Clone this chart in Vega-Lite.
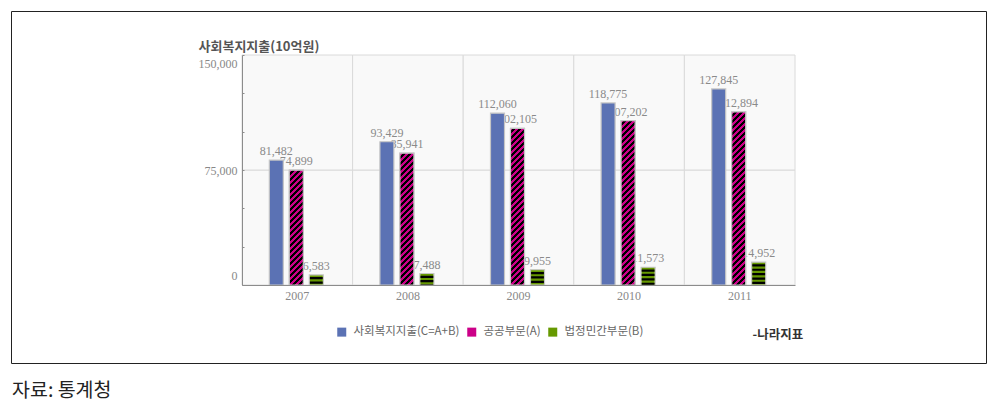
{
"$schema": "https://vega.github.io/schema/vega-lite/v6.json",
"width": 975,
"height": 352,
"autosize": {"type": "none"},
"padding": {"left": 11, "top": 11, "right": 13, "bottom": 39},
"background": "white",
"config": {"view": {"stroke": "#222", "strokeWidth": 1, "fill": "white"}, "font": "Noto Sans CJK KR"},
"title": {"text": "자료: 통계청", "orient": "bottom", "anchor": "start", "frame": "group", "font": "Noto Sans CJK KR", "fontSize": 19.5, "fontWeight": "normal", "color": "#222", "offset": 19, "dx": 1},
"data": {"values": [
{"year": "2007", "series": "사회복지지출(C=A+B)", "value": 81482},
{"year": "2007", "series": "공공부문(A)", "value": 74899},
{"year": "2007", "series": "법정민간부문(B)", "value": 6583},
{"year": "2008", "series": "사회복지지출(C=A+B)", "value": 93429},
{"year": "2008", "series": "공공부문(A)", "value": 85941},
{"year": "2008", "series": "법정민간부문(B)", "value": 7488},
{"year": "2009", "series": "사회복지지출(C=A+B)", "value": 112060},
{"year": "2009", "series": "공공부문(A)", "value": 102105},
{"year": "2009", "series": "법정민간부문(B)", "value": 9955},
{"year": "2010", "series": "사회복지지출(C=A+B)", "value": 118775},
{"year": "2010", "series": "공공부문(A)", "value": 107202},
{"year": "2010", "series": "법정민간부문(B)", "value": 11573},
{"year": "2011", "series": "사회복지지출(C=A+B)", "value": 127845},
{"year": "2011", "series": "공공부문(A)", "value": 112894},
{"year": "2011", "series": "법정민간부문(B)", "value": 14952}
]},
"encoding": {
"x": {"field": "year", "type": "nominal", "sort": null,
"scale": {"range": [231, 784], "paddingInner": 0, "paddingOuter": 0},
"axis": {"offset": -78, "ticks": false, "grid": false, "domainColor": "#8c8c8c", "labelFont": "Liberation Serif", "labelFontSize": 12, "labelColor": "#888", "labelPadding": 5, "labelAngle": 0, "zindex": 1,
"title": "-나라지표", "titleX": 741, "titleY": 49, "titleAlign": "left", "titleBaseline": "middle", "titleFont": "Noto Sans CJK KR", "titleFontSize": 12.5, "titleFontWeight": "bold", "titleColor": "#333"}},
"y": {"field": "value", "type": "quantitative", "scale": {"domain": [0, 150000], "range": [274, 44], "nice": false, "zero": true},
"axis": {"offset": -231, "values": [0, 25000, 50000, 75000, 100000, 125000, 150000], "labelExpr": "datum.value % 75000 === 0 ? format(datum.value, ',') : ''", "labelOverlap": false, "grid": false, "domainColor": "#8c8c8c", "tickColor": "#8c8c8c", "tickSize": -2, "labelPadding": 7, "labelFont": "Liberation Serif", "labelFontSize": 12, "labelColor": "#888", "labelFlush": true, "labelFlushOffset": -3, "zindex": 1,
"title": "사회복지지출(10억원)", "titleAngle": 0, "titleAlign": "left", "titleBaseline": "middle", "titleX": -44, "titleY": 35, "titleFont": "Noto Sans CJK KR", "titleFontSize": 13, "titleFontWeight": "bold", "titleColor": "#555"}}
},
"layer": [
{"transform": [{"filter": "datum.series === '사회복지지출(C=A+B)'"}],
"mark": {"type": "rect", "fill": "#f9f9f9", "stroke": "#dadada", "strokeWidth": 1},
"encoding": {"y": {"datum": 0, "type": "quantitative",
"axis": {"offset": -231, "values": [0, 25000, 50000, 75000, 100000, 125000, 150000], "labelExpr": "datum.value % 75000 === 0 ? format(datum.value, ',') : ''", "labelOverlap": false, "grid": false, "domainColor": "#8c8c8c", "tickColor": "#8c8c8c", "tickSize": -2, "labelPadding": 7, "labelFont": "Liberation Serif", "labelFontSize": 12, "labelColor": "#888", "labelFlush": true, "labelFlushOffset": -3, "zindex": 1,
"title": "사회복지지출(10억원)", "titleAngle": 0, "titleAlign": "left", "titleBaseline": "middle", "titleX": -44, "titleY": 35, "titleFont": "Noto Sans CJK KR", "titleFontSize": 13, "titleFontWeight": "bold", "titleColor": "#555"}}, "y2": {"datum": 75000}}},
{"transform": [{"filter": "datum.series === '사회복지지출(C=A+B)'"}],
"mark": {"type": "rect", "fill": "#f9f9f9", "stroke": "#dadada", "strokeWidth": 1},
"encoding": {"y": {"datum": 75000, "type": "quantitative",
"axis": {"offset": -231, "values": [0, 25000, 50000, 75000, 100000, 125000, 150000], "labelExpr": "datum.value % 75000 === 0 ? format(datum.value, ',') : ''", "labelOverlap": false, "grid": false, "domainColor": "#8c8c8c", "tickColor": "#8c8c8c", "tickSize": -2, "labelPadding": 7, "labelFont": "Liberation Serif", "labelFontSize": 12, "labelColor": "#888", "labelFlush": true, "labelFlushOffset": -3, "zindex": 1,
"title": "사회복지지출(10억원)", "titleAngle": 0, "titleAlign": "left", "titleBaseline": "middle", "titleX": -44, "titleY": 35, "titleFont": "Noto Sans CJK KR", "titleFontSize": 13, "titleFontWeight": "bold", "titleColor": "#555"}}, "y2": {"datum": 150000}}},
{"mark": {"type": "text", "font": "Liberation Serif", "fontSize": 12, "color": "#8a8a8a", "baseline": "alphabetic", "dy": -5},
"encoding": {
"xOffset": {"field": "series", "type": "nominal", "scale": {"domain": ["사회복지지출(C=A+B)", "공공부문(A)", "법정민간부문(B)"], "range": [27.3, 81.3], "paddingInner": 0.3, "paddingOuter": 0}},
"text": {"field": "value", "type": "quantitative", "format": ","}}},
{"mark": {"type": "bar", "stroke": "#c5c5c5", "strokeWidth": 1.2},
"encoding": {
"xOffset": {"field": "series", "type": "nominal", "scale": {"domain": ["사회복지지출(C=A+B)", "공공부문(A)", "법정민간부문(B)"], "range": [27.3, 81.3], "paddingInner": 0.3, "paddingOuter": 0}},
"fill": {"field": "series", "type": "nominal", "scale": {"domain": ["사회복지지출(C=A+B)", "공공부문(A)", "법정민간부문(B)"], "range": ["#5b72b4", "#c08", "#690"]},
"legend": {"title": null, "orient": "none", "legendX": 325, "legendY": 315, "direction": "horizontal", "symbolType": "square", "symbolSize": 81, "symbolStrokeWidth": 0, "labelFont": "Noto Sans CJK KR", "labelFontSize": 11.5, "labelColor": "#666", "labelOffset": 6, "columnPadding": 6, "padding": 0,
"encode": {"symbols": {"fill": {"condition": [
{"test": "datum.value === '공공부문(A)'", "value": {"gradient": "linear", "x1": 0, "y1": 0, "x2": 1, "y2": 1, "stops": [{"offset": 0, "color": "#c08"}, {"offset": 0.38, "color": "#c08"}, {"offset": 0.38, "color": "#000"}, {"offset": 0.62, "color": "#000"}, {"offset": 0.62, "color": "#c08"}, {"offset": 1, "color": "#c08"}]}},
{"test": "datum.value === '법정민간부문(B)'", "value": {"gradient": "linear", "x1": 0, "y1": 0, "x2": 0, "y2": 1, "stops": [{"offset": 0, "color": "#690"}, {"offset": 0.36, "color": "#690"}, {"offset": 0.36, "color": "#000"}, {"offset": 0.64, "color": "#000"}, {"offset": 0.64, "color": "#690"}, {"offset": 1, "color": "#690"}]}}],
"value": "#5b72b4"}}}}}}},
{"transform": [{"filter": "datum.series === '공공부문(A)'"}],
"mark": {"type": "bar", "stroke": "#c5c5c5", "strokeWidth": 1.2},
"encoding": {
"xOffset": {"field": "series", "type": "nominal", "scale": {"domain": ["사회복지지출(C=A+B)", "공공부문(A)", "법정민간부문(B)"], "range": [27.3, 81.3], "paddingInner": 0.3, "paddingOuter": 0}},
"fill": {"condition": [
{"test": "datum.year === '2007'", "value": {"gradient": "linear", "x1": 0, "y1": 0, "x2": 0.31377, "y2": 2.57396, "stops": [
{"offset":0,"color":"#c08"},
{"offset":0.01,"color":"#c08"},{"offset":0.01,"color":"#000"},{"offset":0.02,"color":"#000"},{"offset":0.02,"color":"#c08"},
{"offset":0.03,"color":"#c08"},{"offset":0.03,"color":"#000"},{"offset":0.04,"color":"#000"},{"offset":0.04,"color":"#c08"},
{"offset":0.05,"color":"#c08"},{"offset":0.05,"color":"#000"},{"offset":0.06,"color":"#000"},{"offset":0.06,"color":"#c08"},
{"offset":0.07,"color":"#c08"},{"offset":0.07,"color":"#000"},{"offset":0.08,"color":"#000"},{"offset":0.08,"color":"#c08"},
{"offset":0.09,"color":"#c08"},{"offset":0.09,"color":"#000"},{"offset":0.1,"color":"#000"},{"offset":0.1,"color":"#c08"},
{"offset":0.11,"color":"#c08"},{"offset":0.11,"color":"#000"},{"offset":0.12,"color":"#000"},{"offset":0.12,"color":"#c08"},
{"offset":0.13,"color":"#c08"},{"offset":0.13,"color":"#000"},{"offset":0.14,"color":"#000"},{"offset":0.14,"color":"#c08"},
{"offset":0.15,"color":"#c08"},{"offset":0.15,"color":"#000"},{"offset":0.16,"color":"#000"},{"offset":0.16,"color":"#c08"},
{"offset":0.17,"color":"#c08"},{"offset":0.17,"color":"#000"},{"offset":0.18,"color":"#000"},{"offset":0.18,"color":"#c08"},
{"offset":0.19,"color":"#c08"},{"offset":0.19,"color":"#000"},{"offset":0.2,"color":"#000"},{"offset":0.2,"color":"#c08"},
{"offset":0.21,"color":"#c08"},{"offset":0.21,"color":"#000"},{"offset":0.22,"color":"#000"},{"offset":0.22,"color":"#c08"},
{"offset":0.23,"color":"#c08"},{"offset":0.23,"color":"#000"},{"offset":0.24,"color":"#000"},{"offset":0.24,"color":"#c08"},
{"offset":0.25,"color":"#c08"},{"offset":0.25,"color":"#000"},{"offset":0.26,"color":"#000"},{"offset":0.26,"color":"#c08"},
{"offset":0.27,"color":"#c08"},{"offset":0.27,"color":"#000"},{"offset":0.28,"color":"#000"},{"offset":0.28,"color":"#c08"},
{"offset":0.29,"color":"#c08"},{"offset":0.29,"color":"#000"},{"offset":0.3,"color":"#000"},{"offset":0.3,"color":"#c08"},
{"offset":0.31,"color":"#c08"},{"offset":0.31,"color":"#000"},{"offset":0.32,"color":"#000"},{"offset":0.32,"color":"#c08"},
{"offset":0.33,"color":"#c08"},{"offset":0.33,"color":"#000"},{"offset":0.34,"color":"#000"},{"offset":0.34,"color":"#c08"},
{"offset":0.35,"color":"#c08"},{"offset":0.35,"color":"#000"},{"offset":0.36,"color":"#000"},{"offset":0.36,"color":"#c08"},
{"offset":0.37,"color":"#c08"},{"offset":0.37,"color":"#000"},{"offset":0.38,"color":"#000"},{"offset":0.38,"color":"#c08"},
{"offset":0.39,"color":"#c08"},{"offset":0.39,"color":"#000"},{"offset":0.4,"color":"#000"},{"offset":0.4,"color":"#c08"},
{"offset":0.41,"color":"#c08"},{"offset":0.41,"color":"#000"},{"offset":0.42,"color":"#000"},{"offset":0.42,"color":"#c08"},
{"offset":0.43,"color":"#c08"},{"offset":0.43,"color":"#000"},{"offset":0.44,"color":"#000"}]}},
{"test": "datum.year === '2008'", "value": {"gradient": "linear", "x1": 0, "y1": 0, "x2": 0.23917, "y2": 2.25118, "stops": [
{"offset":0,"color":"#c08"},
{"offset":0.01,"color":"#c08"},{"offset":0.01,"color":"#000"},{"offset":0.02,"color":"#000"},{"offset":0.02,"color":"#c08"},
{"offset":0.03,"color":"#c08"},{"offset":0.03,"color":"#000"},{"offset":0.04,"color":"#000"},{"offset":0.04,"color":"#c08"},
{"offset":0.05,"color":"#c08"},{"offset":0.05,"color":"#000"},{"offset":0.06,"color":"#000"},{"offset":0.06,"color":"#c08"},
{"offset":0.07,"color":"#c08"},{"offset":0.07,"color":"#000"},{"offset":0.08,"color":"#000"},{"offset":0.08,"color":"#c08"},
{"offset":0.09,"color":"#c08"},{"offset":0.09,"color":"#000"},{"offset":0.1,"color":"#000"},{"offset":0.1,"color":"#c08"},
{"offset":0.11,"color":"#c08"},{"offset":0.11,"color":"#000"},{"offset":0.12,"color":"#000"},{"offset":0.12,"color":"#c08"},
{"offset":0.13,"color":"#c08"},{"offset":0.13,"color":"#000"},{"offset":0.14,"color":"#000"},{"offset":0.14,"color":"#c08"},
{"offset":0.15,"color":"#c08"},{"offset":0.15,"color":"#000"},{"offset":0.16,"color":"#000"},{"offset":0.16,"color":"#c08"},
{"offset":0.17,"color":"#c08"},{"offset":0.17,"color":"#000"},{"offset":0.18,"color":"#000"},{"offset":0.18,"color":"#c08"},
{"offset":0.19,"color":"#c08"},{"offset":0.19,"color":"#000"},{"offset":0.2,"color":"#000"},{"offset":0.2,"color":"#c08"},
{"offset":0.21,"color":"#c08"},{"offset":0.21,"color":"#000"},{"offset":0.22,"color":"#000"},{"offset":0.22,"color":"#c08"},
{"offset":0.23,"color":"#c08"},{"offset":0.23,"color":"#000"},{"offset":0.24,"color":"#000"},{"offset":0.24,"color":"#c08"},
{"offset":0.25,"color":"#c08"},{"offset":0.25,"color":"#000"},{"offset":0.26,"color":"#000"},{"offset":0.26,"color":"#c08"},
{"offset":0.27,"color":"#c08"},{"offset":0.27,"color":"#000"},{"offset":0.28,"color":"#000"},{"offset":0.28,"color":"#c08"},
{"offset":0.29,"color":"#c08"},{"offset":0.29,"color":"#000"},{"offset":0.3,"color":"#000"},{"offset":0.3,"color":"#c08"},
{"offset":0.31,"color":"#c08"},{"offset":0.31,"color":"#000"},{"offset":0.32,"color":"#000"},{"offset":0.32,"color":"#c08"},
{"offset":0.33,"color":"#c08"},{"offset":0.33,"color":"#000"},{"offset":0.34,"color":"#000"},{"offset":0.34,"color":"#c08"},
{"offset":0.35,"color":"#c08"},{"offset":0.35,"color":"#000"},{"offset":0.36,"color":"#000"},{"offset":0.36,"color":"#c08"},
{"offset":0.37,"color":"#c08"},{"offset":0.37,"color":"#000"},{"offset":0.38,"color":"#000"},{"offset":0.38,"color":"#c08"},
{"offset":0.39,"color":"#c08"},{"offset":0.39,"color":"#000"},{"offset":0.4,"color":"#000"},{"offset":0.4,"color":"#c08"},
{"offset":0.41,"color":"#c08"},{"offset":0.41,"color":"#000"},{"offset":0.42,"color":"#000"},{"offset":0.42,"color":"#c08"},
{"offset":0.43,"color":"#c08"},{"offset":0.43,"color":"#000"},{"offset":0.44,"color":"#000"},{"offset":0.44,"color":"#c08"},
{"offset":0.45,"color":"#c08"},{"offset":0.45,"color":"#000"},{"offset":0.46,"color":"#000"},{"offset":0.46,"color":"#c08"},
{"offset":0.47,"color":"#c08"},{"offset":0.47,"color":"#000"},{"offset":0.48,"color":"#000"},{"offset":0.48,"color":"#c08"},
{"offset":0.49,"color":"#c08"},{"offset":0.49,"color":"#000"},{"offset":0.5,"color":"#000"}]}},
{"test": "datum.year === '2009'", "value": {"gradient": "linear", "x1": 0, "y1": 0, "x2": 0.16999, "y2": 1.90098, "stops": [
{"offset":0,"color":"#c08"},
{"offset":0.01,"color":"#c08"},{"offset":0.01,"color":"#000"},{"offset":0.02,"color":"#000"},{"offset":0.02,"color":"#c08"},
{"offset":0.03,"color":"#c08"},{"offset":0.03,"color":"#000"},{"offset":0.04,"color":"#000"},{"offset":0.04,"color":"#c08"},
{"offset":0.05,"color":"#c08"},{"offset":0.05,"color":"#000"},{"offset":0.06,"color":"#000"},{"offset":0.06,"color":"#c08"},
{"offset":0.07,"color":"#c08"},{"offset":0.07,"color":"#000"},{"offset":0.08,"color":"#000"},{"offset":0.08,"color":"#c08"},
{"offset":0.09,"color":"#c08"},{"offset":0.09,"color":"#000"},{"offset":0.1,"color":"#000"},{"offset":0.1,"color":"#c08"},
{"offset":0.11,"color":"#c08"},{"offset":0.11,"color":"#000"},{"offset":0.12,"color":"#000"},{"offset":0.12,"color":"#c08"},
{"offset":0.13,"color":"#c08"},{"offset":0.13,"color":"#000"},{"offset":0.14,"color":"#000"},{"offset":0.14,"color":"#c08"},
{"offset":0.15,"color":"#c08"},{"offset":0.15,"color":"#000"},{"offset":0.16,"color":"#000"},{"offset":0.16,"color":"#c08"},
{"offset":0.17,"color":"#c08"},{"offset":0.17,"color":"#000"},{"offset":0.18,"color":"#000"},{"offset":0.18,"color":"#c08"},
{"offset":0.19,"color":"#c08"},{"offset":0.19,"color":"#000"},{"offset":0.2,"color":"#000"},{"offset":0.2,"color":"#c08"},
{"offset":0.21,"color":"#c08"},{"offset":0.21,"color":"#000"},{"offset":0.22,"color":"#000"},{"offset":0.22,"color":"#c08"},
{"offset":0.23,"color":"#c08"},{"offset":0.23,"color":"#000"},{"offset":0.24,"color":"#000"},{"offset":0.24,"color":"#c08"},
{"offset":0.25,"color":"#c08"},{"offset":0.25,"color":"#000"},{"offset":0.26,"color":"#000"},{"offset":0.26,"color":"#c08"},
{"offset":0.27,"color":"#c08"},{"offset":0.27,"color":"#000"},{"offset":0.28,"color":"#000"},{"offset":0.28,"color":"#c08"},
{"offset":0.29,"color":"#c08"},{"offset":0.29,"color":"#000"},{"offset":0.3,"color":"#000"},{"offset":0.3,"color":"#c08"},
{"offset":0.31,"color":"#c08"},{"offset":0.31,"color":"#000"},{"offset":0.32,"color":"#000"},{"offset":0.32,"color":"#c08"},
{"offset":0.33,"color":"#c08"},{"offset":0.33,"color":"#000"},{"offset":0.34,"color":"#000"},{"offset":0.34,"color":"#c08"},
{"offset":0.35,"color":"#c08"},{"offset":0.35,"color":"#000"},{"offset":0.36,"color":"#000"},{"offset":0.36,"color":"#c08"},
{"offset":0.37,"color":"#c08"},{"offset":0.37,"color":"#000"},{"offset":0.38,"color":"#000"},{"offset":0.38,"color":"#c08"},
{"offset":0.39,"color":"#c08"},{"offset":0.39,"color":"#000"},{"offset":0.4,"color":"#000"},{"offset":0.4,"color":"#c08"},
{"offset":0.41,"color":"#c08"},{"offset":0.41,"color":"#000"},{"offset":0.42,"color":"#000"},{"offset":0.42,"color":"#c08"},
{"offset":0.43,"color":"#c08"},{"offset":0.43,"color":"#000"},{"offset":0.44,"color":"#000"},{"offset":0.44,"color":"#c08"},
{"offset":0.45,"color":"#c08"},{"offset":0.45,"color":"#000"},{"offset":0.46,"color":"#000"},{"offset":0.46,"color":"#c08"},
{"offset":0.47,"color":"#c08"},{"offset":0.47,"color":"#000"},{"offset":0.48,"color":"#000"},{"offset":0.48,"color":"#c08"},
{"offset":0.49,"color":"#c08"},{"offset":0.49,"color":"#000"},{"offset":0.5,"color":"#000"},{"offset":0.5,"color":"#c08"},
{"offset":0.51,"color":"#c08"},{"offset":0.51,"color":"#000"},{"offset":0.52,"color":"#000"},{"offset":0.52,"color":"#c08"},
{"offset":0.53,"color":"#c08"},{"offset":0.53,"color":"#000"},{"offset":0.54,"color":"#000"},{"offset":0.54,"color":"#c08"},
{"offset":0.55,"color":"#c08"},{"offset":0.55,"color":"#000"},{"offset":0.56,"color":"#000"},{"offset":0.56,"color":"#c08"},
{"offset":0.57,"color":"#c08"},{"offset":0.57,"color":"#000"},{"offset":0.58,"color":"#000"}]}},
{"test": "datum.year === '2010'", "value": {"gradient": "linear", "x1": 0, "y1": 0, "x2": 0.15433, "y2": 1.81194, "stops": [
{"offset":0,"color":"#c08"},
{"offset":0.01,"color":"#c08"},{"offset":0.01,"color":"#000"},{"offset":0.02,"color":"#000"},{"offset":0.02,"color":"#c08"},
{"offset":0.03,"color":"#c08"},{"offset":0.03,"color":"#000"},{"offset":0.04,"color":"#000"},{"offset":0.04,"color":"#c08"},
{"offset":0.05,"color":"#c08"},{"offset":0.05,"color":"#000"},{"offset":0.06,"color":"#000"},{"offset":0.06,"color":"#c08"},
{"offset":0.07,"color":"#c08"},{"offset":0.07,"color":"#000"},{"offset":0.08,"color":"#000"},{"offset":0.08,"color":"#c08"},
{"offset":0.09,"color":"#c08"},{"offset":0.09,"color":"#000"},{"offset":0.1,"color":"#000"},{"offset":0.1,"color":"#c08"},
{"offset":0.11,"color":"#c08"},{"offset":0.11,"color":"#000"},{"offset":0.12,"color":"#000"},{"offset":0.12,"color":"#c08"},
{"offset":0.13,"color":"#c08"},{"offset":0.13,"color":"#000"},{"offset":0.14,"color":"#000"},{"offset":0.14,"color":"#c08"},
{"offset":0.15,"color":"#c08"},{"offset":0.15,"color":"#000"},{"offset":0.16,"color":"#000"},{"offset":0.16,"color":"#c08"},
{"offset":0.17,"color":"#c08"},{"offset":0.17,"color":"#000"},{"offset":0.18,"color":"#000"},{"offset":0.18,"color":"#c08"},
{"offset":0.19,"color":"#c08"},{"offset":0.19,"color":"#000"},{"offset":0.2,"color":"#000"},{"offset":0.2,"color":"#c08"},
{"offset":0.21,"color":"#c08"},{"offset":0.21,"color":"#000"},{"offset":0.22,"color":"#000"},{"offset":0.22,"color":"#c08"},
{"offset":0.23,"color":"#c08"},{"offset":0.23,"color":"#000"},{"offset":0.24,"color":"#000"},{"offset":0.24,"color":"#c08"},
{"offset":0.25,"color":"#c08"},{"offset":0.25,"color":"#000"},{"offset":0.26,"color":"#000"},{"offset":0.26,"color":"#c08"},
{"offset":0.27,"color":"#c08"},{"offset":0.27,"color":"#000"},{"offset":0.28,"color":"#000"},{"offset":0.28,"color":"#c08"},
{"offset":0.29,"color":"#c08"},{"offset":0.29,"color":"#000"},{"offset":0.3,"color":"#000"},{"offset":0.3,"color":"#c08"},
{"offset":0.31,"color":"#c08"},{"offset":0.31,"color":"#000"},{"offset":0.32,"color":"#000"},{"offset":0.32,"color":"#c08"},
{"offset":0.33,"color":"#c08"},{"offset":0.33,"color":"#000"},{"offset":0.34,"color":"#000"},{"offset":0.34,"color":"#c08"},
{"offset":0.35,"color":"#c08"},{"offset":0.35,"color":"#000"},{"offset":0.36,"color":"#000"},{"offset":0.36,"color":"#c08"},
{"offset":0.37,"color":"#c08"},{"offset":0.37,"color":"#000"},{"offset":0.38,"color":"#000"},{"offset":0.38,"color":"#c08"},
{"offset":0.39,"color":"#c08"},{"offset":0.39,"color":"#000"},{"offset":0.4,"color":"#000"},{"offset":0.4,"color":"#c08"},
{"offset":0.41,"color":"#c08"},{"offset":0.41,"color":"#000"},{"offset":0.42,"color":"#000"},{"offset":0.42,"color":"#c08"},
{"offset":0.43,"color":"#c08"},{"offset":0.43,"color":"#000"},{"offset":0.44,"color":"#000"},{"offset":0.44,"color":"#c08"},
{"offset":0.45,"color":"#c08"},{"offset":0.45,"color":"#000"},{"offset":0.46,"color":"#000"},{"offset":0.46,"color":"#c08"},
{"offset":0.47,"color":"#c08"},{"offset":0.47,"color":"#000"},{"offset":0.48,"color":"#000"},{"offset":0.48,"color":"#c08"},
{"offset":0.49,"color":"#c08"},{"offset":0.49,"color":"#000"},{"offset":0.5,"color":"#000"},{"offset":0.5,"color":"#c08"},
{"offset":0.51,"color":"#c08"},{"offset":0.51,"color":"#000"},{"offset":0.52,"color":"#000"},{"offset":0.52,"color":"#c08"},
{"offset":0.53,"color":"#c08"},{"offset":0.53,"color":"#000"},{"offset":0.54,"color":"#000"},{"offset":0.54,"color":"#c08"},
{"offset":0.55,"color":"#c08"},{"offset":0.55,"color":"#000"},{"offset":0.56,"color":"#000"},{"offset":0.56,"color":"#c08"},
{"offset":0.57,"color":"#c08"},{"offset":0.57,"color":"#000"},{"offset":0.58,"color":"#000"},{"offset":0.58,"color":"#c08"},
{"offset":0.59,"color":"#c08"},{"offset":0.59,"color":"#000"},{"offset":0.6,"color":"#000"}]}}
],
"value": {"gradient": "linear", "x1": 0, "y1": 0, "x2": 0.13925, "y2": 1.7218, "stops": [
{"offset":0,"color":"#c08"},
{"offset":0.01,"color":"#c08"},{"offset":0.01,"color":"#000"},{"offset":0.02,"color":"#000"},{"offset":0.02,"color":"#c08"},
{"offset":0.03,"color":"#c08"},{"offset":0.03,"color":"#000"},{"offset":0.04,"color":"#000"},{"offset":0.04,"color":"#c08"},
{"offset":0.05,"color":"#c08"},{"offset":0.05,"color":"#000"},{"offset":0.06,"color":"#000"},{"offset":0.06,"color":"#c08"},
{"offset":0.07,"color":"#c08"},{"offset":0.07,"color":"#000"},{"offset":0.08,"color":"#000"},{"offset":0.08,"color":"#c08"},
{"offset":0.09,"color":"#c08"},{"offset":0.09,"color":"#000"},{"offset":0.1,"color":"#000"},{"offset":0.1,"color":"#c08"},
{"offset":0.11,"color":"#c08"},{"offset":0.11,"color":"#000"},{"offset":0.12,"color":"#000"},{"offset":0.12,"color":"#c08"},
{"offset":0.13,"color":"#c08"},{"offset":0.13,"color":"#000"},{"offset":0.14,"color":"#000"},{"offset":0.14,"color":"#c08"},
{"offset":0.15,"color":"#c08"},{"offset":0.15,"color":"#000"},{"offset":0.16,"color":"#000"},{"offset":0.16,"color":"#c08"},
{"offset":0.17,"color":"#c08"},{"offset":0.17,"color":"#000"},{"offset":0.18,"color":"#000"},{"offset":0.18,"color":"#c08"},
{"offset":0.19,"color":"#c08"},{"offset":0.19,"color":"#000"},{"offset":0.2,"color":"#000"},{"offset":0.2,"color":"#c08"},
{"offset":0.21,"color":"#c08"},{"offset":0.21,"color":"#000"},{"offset":0.22,"color":"#000"},{"offset":0.22,"color":"#c08"},
{"offset":0.23,"color":"#c08"},{"offset":0.23,"color":"#000"},{"offset":0.24,"color":"#000"},{"offset":0.24,"color":"#c08"},
{"offset":0.25,"color":"#c08"},{"offset":0.25,"color":"#000"},{"offset":0.26,"color":"#000"},{"offset":0.26,"color":"#c08"},
{"offset":0.27,"color":"#c08"},{"offset":0.27,"color":"#000"},{"offset":0.28,"color":"#000"},{"offset":0.28,"color":"#c08"},
{"offset":0.29,"color":"#c08"},{"offset":0.29,"color":"#000"},{"offset":0.3,"color":"#000"},{"offset":0.3,"color":"#c08"},
{"offset":0.31,"color":"#c08"},{"offset":0.31,"color":"#000"},{"offset":0.32,"color":"#000"},{"offset":0.32,"color":"#c08"},
{"offset":0.33,"color":"#c08"},{"offset":0.33,"color":"#000"},{"offset":0.34,"color":"#000"},{"offset":0.34,"color":"#c08"},
{"offset":0.35,"color":"#c08"},{"offset":0.35,"color":"#000"},{"offset":0.36,"color":"#000"},{"offset":0.36,"color":"#c08"},
{"offset":0.37,"color":"#c08"},{"offset":0.37,"color":"#000"},{"offset":0.38,"color":"#000"},{"offset":0.38,"color":"#c08"},
{"offset":0.39,"color":"#c08"},{"offset":0.39,"color":"#000"},{"offset":0.4,"color":"#000"},{"offset":0.4,"color":"#c08"},
{"offset":0.41,"color":"#c08"},{"offset":0.41,"color":"#000"},{"offset":0.42,"color":"#000"},{"offset":0.42,"color":"#c08"},
{"offset":0.43,"color":"#c08"},{"offset":0.43,"color":"#000"},{"offset":0.44,"color":"#000"},{"offset":0.44,"color":"#c08"},
{"offset":0.45,"color":"#c08"},{"offset":0.45,"color":"#000"},{"offset":0.46,"color":"#000"},{"offset":0.46,"color":"#c08"},
{"offset":0.47,"color":"#c08"},{"offset":0.47,"color":"#000"},{"offset":0.48,"color":"#000"},{"offset":0.48,"color":"#c08"},
{"offset":0.49,"color":"#c08"},{"offset":0.49,"color":"#000"},{"offset":0.5,"color":"#000"},{"offset":0.5,"color":"#c08"},
{"offset":0.51,"color":"#c08"},{"offset":0.51,"color":"#000"},{"offset":0.52,"color":"#000"},{"offset":0.52,"color":"#c08"},
{"offset":0.53,"color":"#c08"},{"offset":0.53,"color":"#000"},{"offset":0.54,"color":"#000"},{"offset":0.54,"color":"#c08"},
{"offset":0.55,"color":"#c08"},{"offset":0.55,"color":"#000"},{"offset":0.56,"color":"#000"},{"offset":0.56,"color":"#c08"},
{"offset":0.57,"color":"#c08"},{"offset":0.57,"color":"#000"},{"offset":0.58,"color":"#000"},{"offset":0.58,"color":"#c08"},
{"offset":0.59,"color":"#c08"},{"offset":0.59,"color":"#000"},{"offset":0.6,"color":"#000"},{"offset":0.6,"color":"#c08"},
{"offset":0.61,"color":"#c08"},{"offset":0.61,"color":"#000"},{"offset":0.62,"color":"#000"},{"offset":0.62,"color":"#c08"},
{"offset":0.63,"color":"#c08"},{"offset":0.63,"color":"#000"},{"offset":0.64,"color":"#000"}]}}}},
{"transform": [{"filter": "datum.series === '법정민간부문(B)'"}],
"mark": {"type": "rule", "color": "#000", "strokeWidth": 12.8, "strokeDash": [2.2, 2.2], "strokeDashOffset": 2.2, "strokeCap": "butt"},
"encoding": {
"xOffset": {"field": "series", "type": "nominal", "scale": {"domain": ["사회복지지출(C=A+B)", "공공부문(A)", "법정민간부문(B)"], "range": [27.3, 81.3], "paddingInner": 0.3, "paddingOuter": 0}},
"y2": {"datum": 0}}}
]
}
